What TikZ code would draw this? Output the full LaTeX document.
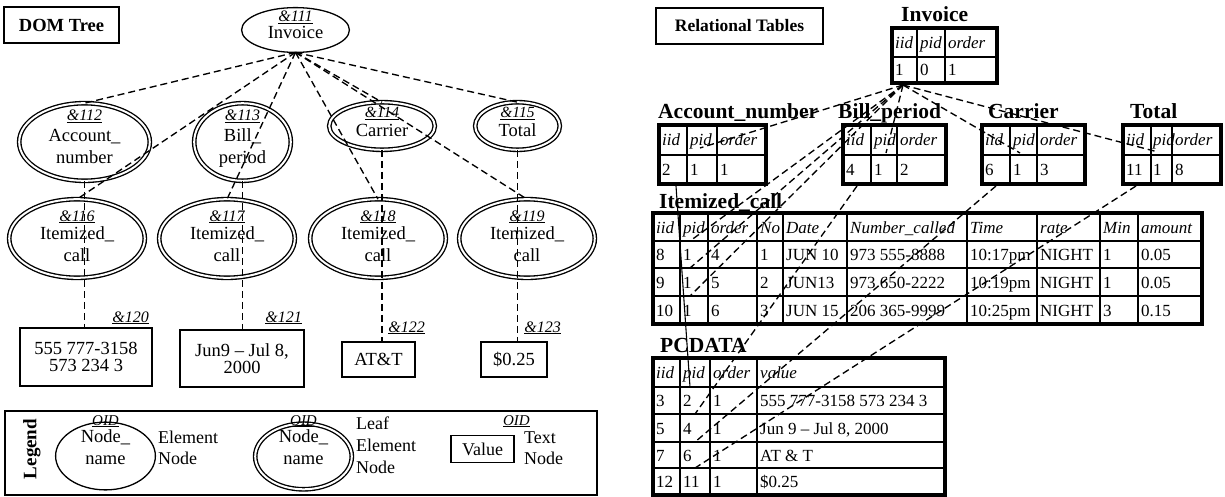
\documentclass[tikz,border=0pt]{standalone}
\usepackage{fontspec}
\setmainfont{Liberation Serif}
\usetikzlibrary{shapes.geometric}

\newcommand\fsz[1]{\fontsize{#1}{#1}\selectfont}
\newcommand\oidtxt[1]{\underline{\itshape #1}}
% grid of a relational table: x0,y0,x1,y1, inner verticals, inner horizontals
\newcommand\tablegrid[6]{%
  \foreach \xx in {#5} {\draw[tin] (\xx,#2) -- (\xx,#4);}
  \foreach \yy in {#6} {\draw[tin] (#1,\yy) -- (#3,\yy);}
  \draw[tout] (#1,#2) rectangle (#3,#4);}
% one row of cell texts: name prefix, baseline, style, list of x/text
\newcommand\trow[4]{%
  \foreach \xx/\celltext [count=\ci] in {#4} {\node[#3] (#1-\ci) at (\xx,#2) {\celltext};}}

\begin{document}
\begin{tikzpicture}[x=1pt,y=-1pt,
  dline/.style={line width=1.35pt, dash pattern=on 7pt off 4pt},
  elem/.style={draw, ellipse, line width=1.3pt, inner sep=0pt, outer sep=0pt},
  leafel/.style={draw, ellipse, double, double distance=2pt, line width=1.35pt, inner sep=0pt, outer sep=0pt},
  nm/.style={anchor=base, inner sep=0pt, font=\fsz{18.5}},
  nmw/.style={anchor=base west, inner sep=0pt, font=\fsz{18}},
  oidl/.style={anchor=base, inner sep=0pt, font=\fsz{16}},
  tbox/.style={draw, line width=1.2pt, inner sep=0pt, align=center, font=\fontsize{18.5}{17}\selectfont},
  hdr/.style={draw, line width=1.1pt, inner sep=0pt, font=\bfseries\fsz{18.5}},
  ttl/.style={anchor=base west, inner sep=0pt, font=\bfseries\fsz{21.5}},
  hd/.style={anchor=base west, inner sep=0pt, font=\itshape\fsz{17}},
  dc/.style={anchor=base west, inner sep=0pt, font=\fsz{17}},
  tin/.style={line width=1.4pt},
  tout/.style={line width=3.6pt}]

\useasboundingbox (0,0) rectangle (1225,497);

% ---------- panel headers ----------
\node[hdr, minimum width=115pt, minimum height=36pt] (domhdr) at (61.5,25) {DOM Tree};
\node[hdr, minimum width=167pt, minimum height=36pt, font=\bfseries\fsz{17.5}] (relhdr) at (739.5,26) {Relational Tables};

% ---------- DOM tree ----------
\node[elem, minimum width=107.8pt, minimum height=44.8pt] (inv) at (295.5,30) {};
\node[oidl] (inv-oid) at (295.5,22) {\oidtxt{\&111}};
\node[nm] (inv-nm) at (295.5,39) {Invoice};

\node[leafel, minimum width=130.6pt, minimum height=77.6pt] (n112) at (84.5,142) {};
\node[oidl] (n112-oid) at (84.5,121) {\oidtxt{\&112}};
\node[nm] (n112-a) at (84.5,142) {Account\_};
\node[nm] (n112-b) at (84.5,164) {number};

\node[leafel, minimum width=96.6pt, minimum height=77.6pt] (n113) at (242.5,142) {};
\node[oidl] (n113-oid) at (242.5,121) {\oidtxt{\&113}};
\node[nm] (n113-a) at (242.5,142) {Bill\_};
\node[nm] (n113-b) at (242.5,164) {period};

\node[leafel, minimum width=105.6pt, minimum height=47.6pt] (n114) at (382,126) {};
\node[oidl, font=\fsz{15.5}] (n114-oid) at (382,117.5) {\oidtxt{\&114}};
\node[nm] (n114-a) at (382,137) {Carrier};

\node[leafel, minimum width=84.6pt, minimum height=47.6pt] (n115) at (517.5,126) {};
\node[oidl, font=\fsz{15.5}] (n115-oid) at (517.5,117.5) {\oidtxt{\&115}};
\node[nm] (n115-a) at (517.5,137) {Total};

\foreach \nn/\xx in {116/77,117/227,118/378,119/527} {
  \node[leafel, minimum width=135.6pt, minimum height=78.6pt] (n\nn) at (\xx,238.5) {};
  \node[oidl] (n\nn-oid) at (\xx,221) {\oidtxt{\&\nn}};
  \node[nm] (n\nn-a) at (\xx,239) {Itemized\_};
  \node[nm] (n\nn-b) at (\xx,261) {call};
}

\node[tbox, minimum width=132pt, minimum height=58pt] (t120) at (86,357) {555 777-3158\\573 234 3};
\node[tbox, minimum width=124pt, minimum height=57pt] (t121) at (242,358.5) {Jun9 \textendash\ Jul 8,\\2000};
\node[tbox, minimum width=73pt, minimum height=35pt] (t122) at (378.5,359.5) {AT\&T};
\node[tbox, minimum width=66pt, minimum height=35pt] (t123) at (514,359.5) {\$0.25};
\node[oidl, anchor=base east] (t120-oid) at (149,322) {\oidtxt{\&120}};
\node[oidl, anchor=base east] (t121-oid) at (302,322) {\oidtxt{\&121}};
\node[oidl, anchor=base east] (t122-oid) at (425,332) {\oidtxt{\&122}};
\node[oidl, anchor=base east] (t123-oid) at (561,332) {\oidtxt{\&123}};

% tree edges
\foreach \nn in {112,116,117,114,118,119,115}
  \draw[dline] (inv.south) -- (n\nn.north);
\draw[dline] (n112.south) -- (n112.south |- t120.north);
\draw[dline] (n113.south) -- (n113.south |- t121.north);
\draw[dline] (n114.south) -- (n114.south |- t122.north);
\draw[dline] (n115.south) -- (n115.south |- t123.north);

% ---------- legend ----------
\node[draw, line width=1.2pt, minimum width=592pt, minimum height=84pt, inner sep=0pt] (legbox) at (301,453) {};
\node[rotate=90, inner sep=0pt, font=\bfseries\fsz{19}] (legtitle) at (32,449) {Legend};

\node[elem, minimum width=99.8pt, minimum height=67.8pt] (lg-el) at (105.5,456) {};
\node[oidl, font=\fsz{15}] (lg-el-oid) at (105.5,425) {\oidtxt{OID}};
\node[nm] (lg-el-a) at (105.5,442) {Node\_};
\node[nm] (lg-el-b) at (105.5,464) {name};
\node[nmw] (lg-el-c) at (158,443) {Element};
\node[nmw] (lg-el-d) at (158,464) {Node};

\node[leafel, minimum width=96.6pt, minimum height=65.6pt] (lg-lf) at (303.5,456.5) {};
\node[oidl, font=\fsz{15}] (lg-lf-oid) at (303.5,425) {\oidtxt{OID}};
\node[nm] (lg-lf-a) at (303.5,442) {Node\_};
\node[nm] (lg-lf-b) at (303.5,464) {name};
\node[nmw] (lg-lf-c) at (356,429) {Leaf};
\node[nmw] (lg-lf-d) at (356,451) {Element};
\node[nmw] (lg-lf-e) at (356,473) {Node};

\node[tbox, minimum width=63pt, minimum height=27pt, font=\fsz{18}] (lg-tx) at (482.5,449) {Value};
\node[oidl, font=\fsz{15}, anchor=base east] (lg-tx-oid) at (530,425) {\oidtxt{OID}};
\node[nmw] (lg-tx-c) at (524,443) {Text};
\node[nmw] (lg-tx-d) at (524,464) {Node};

% ---------- relational tables ----------
\node[ttl] (inv-title) at (901,22) {Invoice};
\node[ttl] (an-title) at (658,119) {Account\_number};
\node[ttl] (bp-title) at (838,119) {Bill\_period};
\node[ttl] (ca-title) at (988,119) {Carrier};
\node[ttl] (to-title) at (1130,119) {Total};
\node[ttl] (ic-title) at (659,208) {Itemized\_call};
\node[ttl] (pc-title) at (660,352) {PCDATA};

\tablegrid{892}{28}{997}{83}{917,945}{57}
\tablegrid{659}{125}{766}{184}{687,717}{155}
\tablegrid{843}{125}{946}{184}{871,897}{155}
\tablegrid{982}{125}{1085}{184}{1010,1037}{155}
\tablegrid{1123}{125}{1221}{184}{1151,1172}{155}
\tablegrid{653}{213}{1202}{324}{680,708,757,783,847,967,1037,1100,1138}{241,268,296}
\tablegrid{653}{358}{945}{495}{680,710,757}{387,414,442,468}

\trow{inv-h}{48.5}{hd}{895/iid,920/pid,948/order}
\trow{inv-d}{76}{dc}{895/1,920/0,948/1}
\trow{an-h}{146}{hd}{662/iid,690/pid,720/order}
\trow{an-d}{175.5}{dc}{662/2,690/1,720/1}
\trow{bp-h}{146}{hd}{846/iid,874/pid,900/order}
\trow{bp-d}{175.5}{dc}{846/4,874/1,900/2}
\trow{ca-h}{146}{hd}{985/iid,1013/pid,1040/order}
\trow{ca-d}{175.5}{dc}{985/6,1013/1,1040/3}
\trow{to-h}{146}{hd}{1126/iid,1153/pid,1175/order}
\trow{to-d}{175.5}{dc}{1126/11,1153/1,1175/8}

\trow{ic-h}{233}{hd}{656/iid,683/pid,711/order,760/No,786/Date,850/Number\_called,970/Time,1040/rate,1103/Min,1141/amount}
\trow{ic-a}{260.5}{dc}{656/8,683/1,711/4,760/1,786/JUN 10,850/973 555-8888,970/10:17pm,1040/NIGHT,1103/1,1141/0.05}
\trow{ic-b}{288}{dc}{656/9,683/1,711/5,760/2,786/JUN13,850/973 650-2222,970/10:19pm,1040/NIGHT,1103/1,1141/0.05}
\trow{ic-c}{316}{dc}{656/10,683/1,711/6,760/3,786/JUN 15,850/206 365-9999,970/10:25pm,1040/NIGHT,1103/3,1141/0.15}

\trow{pc-h}{378.5}{hd}{656/iid,683/pid,713/order,760/value}
\trow{pc-a}{406.5}{dc}{656/3,683/2,713/1,760/555 777-3158 573 234 3}
\trow{pc-b}{434}{dc}{656/5,683/4,713/1,760/{Jun 9 \textendash\ Jul 8, 2000}}
\trow{pc-c}{461}{dc}{656/7,683/6,713/1,760/AT \& T}
\trow{pc-d}{487.5}{dc}{656/12,683/11,713/1,760/\$0.25}

% link points: iid of a parent row to pid of its child rows
\coordinate (inv-out) at (903,85);
\coordinate (an-in) at (700,148);
\coordinate (bp-in) at (886,153);
\coordinate (ca-in) at (1020,153);
\coordinate (to-in) at (1158,152);
\coordinate (ic-in1) at (690,241);
\coordinate (ic-in2) at (690,268);
\coordinate (ic-in3) at (690,296);
\coordinate (an-out) at (676,186);
\coordinate (bp-out) at (857,186);
\coordinate (ca-out) at (996,186);
\coordinate (to-out) at (1136,186);
\coordinate (pc-in1) at (690,387);
\coordinate (pc-in2) at (695,414);
\coordinate (pc-in3) at (695,442);
\coordinate (pc-in4) at (695,468);

\foreach \tg in {an-in,bp-in,ca-in,to-in,ic-in1,ic-in2,ic-in3}
  \draw[dline] (inv-out) -- (\tg);
\draw[line width=1.1pt] (an-out) -- (pc-in1);
\draw[dline] (bp-out) -- (pc-in2);
\draw[dline] (ca-out) -- (pc-in3);
\draw[dline] (to-out) -- (pc-in4);

\end{tikzpicture}
\end{document}
